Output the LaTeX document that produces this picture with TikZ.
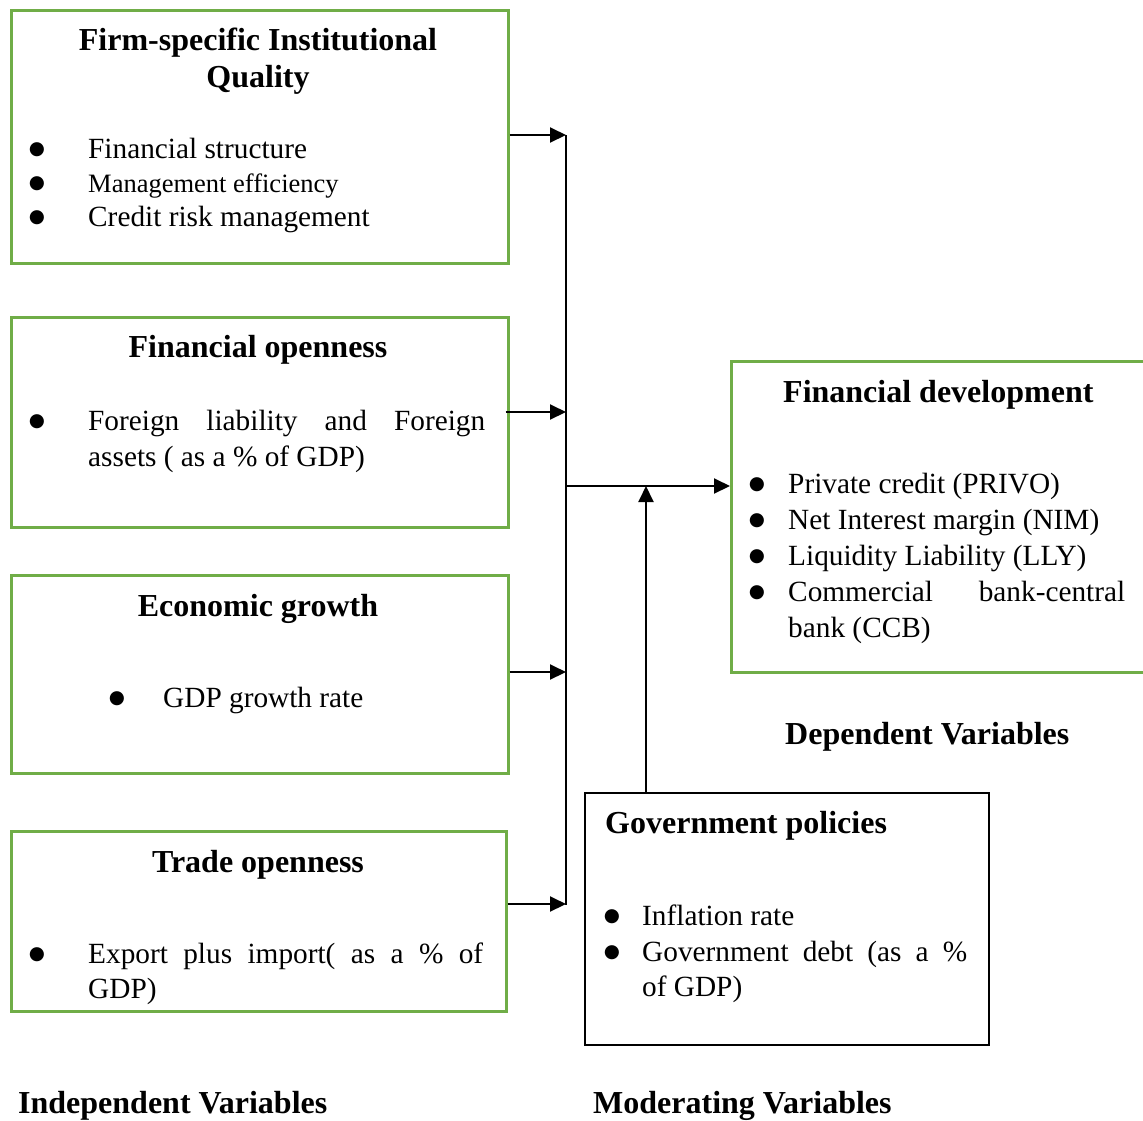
\documentclass[tikz,border=0pt]{standalone}
\usepackage{fontspec}
\setmainfont{Liberation Serif}
\newfontfamily\dejavu{DejaVu Sans}
\usetikzlibrary{arrows.meta}

\definecolor{boxgreen}{HTML}{70AD47}

\newcommand\bodyfont{\fontsize{29.3}{34}\selectfont}
\newcommand\smallbodyfont{\fontsize{26.5}{30}\selectfont}
\newcommand\headfont{\fontsize{32}{37}\selectfont\bfseries}
\newcommand\bulletfont{\dejavu\fontsize{18.5}{20}\selectfont}
\newcommand\bul{●}

\begin{document}
\begin{tikzpicture}[x=1pt,y=-1pt,
  gbox/.style={draw=boxgreen, line width=2.5pt, anchor=north west, inner sep=0pt},
  kbox/.style={draw=black, line width=2pt, anchor=north west, inner sep=0pt},
  txt/.style={inner sep=0pt, anchor=base west, font=\bodyfont},
  stxt/.style={inner sep=0pt, anchor=base west, font=\smallbodyfont},
  bulmark/.style={inner sep=0pt, anchor=base, font=\bulletfont, yshift=3.5pt},
  hd/.style={inner sep=0pt, anchor=base, font=\headfont},
  hdl/.style={inner sep=0pt, anchor=base west, font=\headfont},
  link/.style={draw=black, line width=2pt},
  arr/.style={link, -{Triangle[length=16pt,width=15pt]}}
]
\useasboundingbox (0,0) rectangle (1143,1120);

% ---- boxes ----
\node[gbox, minimum width=497pt, minimum height=253pt] (b1) at (10,9) {};
\node[gbox, minimum width=497pt, minimum height=210pt] (b2) at (10,316) {};
\node[gbox, minimum width=497pt, minimum height=198pt] (b3) at (10,574) {};
\node[gbox, minimum width=495pt, minimum height=180pt] (b4) at (10,830) {};
\node[gbox, minimum width=430pt, minimum height=311pt] (fd) at (730,360) {};
\node[kbox, minimum width=404pt, minimum height=252pt] (gov) at (584,792) {};

% ---- firm-specific institutional quality ----
\node[hd] (h1a) at (258,50) {Firm-specific Institutional};
\node[hd] (h1b) at (258,87) {Quality};
\node[bulmark] (p1a) at (37,158) {\bul};
\node[txt] (t1a) at (88,158) {Financial structure};
\node[bulmark] (p1b) at (37,192) {\bul};
\node[stxt] (t1b) at (88,192) {Management efficiency};
\node[bulmark] (p1c) at (37,226) {\bul};
\node[txt] (t1c) at (88,226) {Credit risk management};

% ---- financial openness ----
\node[hd] (h2) at (258,357) {Financial openness};
\node[bulmark] (p2) at (37,430) {\bul};
\node[txt] (t2a) at (88,430) {\hbox to 397pt{Foreign\hfill liability\hfill and\hfill Foreign}};
\node[txt] (t2b) at (88,466) {assets ( as a \% of GDP)};

% ---- economic growth ----
\node[hd] (h3) at (258,616) {Economic growth};
\node[bulmark] (p3) at (117,707) {\bul};
\node[txt] (t3) at (163,707) {GDP growth rate};

% ---- trade openness ----
\node[hd] (h4) at (258,872) {Trade openness};
\node[bulmark] (p4) at (37,963) {\bul};
\node[txt] (t4a) at (88,963) {\hbox to 395pt{Export\hfill plus\hfill import(\hfill as\hfill a\hfill \%\hfill of}};
\node[txt] (t4b) at (88,998) {GDP)};

% ---- financial development ----
\node[hdl] (h5) at (783,402) {Financial development};
\node[bulmark] (p5a) at (757,493) {\bul};
\node[txt] (t5a) at (788,493) {Private credit (PRIVO)};
\node[bulmark] (p5b) at (757,529) {\bul};
\node[txt] (t5b) at (788,529) {Net Interest margin (NIM)};
\node[bulmark] (p5c) at (757,565) {\bul};
\node[txt] (t5c) at (788,565) {Liquidity Liability (LLY)};
\node[bulmark] (p5d) at (757,601) {\bul};
\node[txt] (t5d) at (788,601) {\hbox to 337pt{Commercial\hfill bank-central}};
\node[txt] (t5e) at (788,637) {bank (CCB)};
\node[hdl] (dep) at (785,744) {Dependent Variables};

% ---- government policies ----
\node[hdl] (h6) at (605,833) {Government policies};
\node[bulmark] (p6a) at (612,925) {\bul};
\node[txt] (t6a) at (642,925) {Inflation rate};
\node[bulmark] (p6b) at (612,961) {\bul};
\node[txt] (t6b) at (642,961) {\hbox to 325pt{Government\hfill debt\hfill (as\hfill a\hfill \%}};
\node[txt] (t6c) at (642,996) {of GDP)};

% ---- group labels ----
\node[hdl] (indep) at (18,1113) {Independent Variables};
\node[hdl] (moder) at (593,1113) {Moderating Variables};

% ---- connectors ----
\coordinate (a1) at (566,135);
\coordinate (a2) at (566,412);
\coordinate (a3) at (566,672);
\coordinate (a4) at (566,904);
\coordinate (trunkbot) at (566,905);
\coordinate (join) at (566,486);
\coordinate (merge) at (646,486);

\draw[link] (a1) -- (trunkbot);
\draw[arr] (b1.east |- a1) -- (a1);
\draw[arr] ([xshift=-4pt]b2.east |- a2) -- (a2);
\draw[arr] (b3.east |- a3) -- (a3);
\draw[arr] (b4.east |- a4) -- (a4);
\draw[arr] (join) -- (fd.west |- join);
\draw[arr] (gov.north -| merge) -- (merge);
\end{tikzpicture}
\end{document}
